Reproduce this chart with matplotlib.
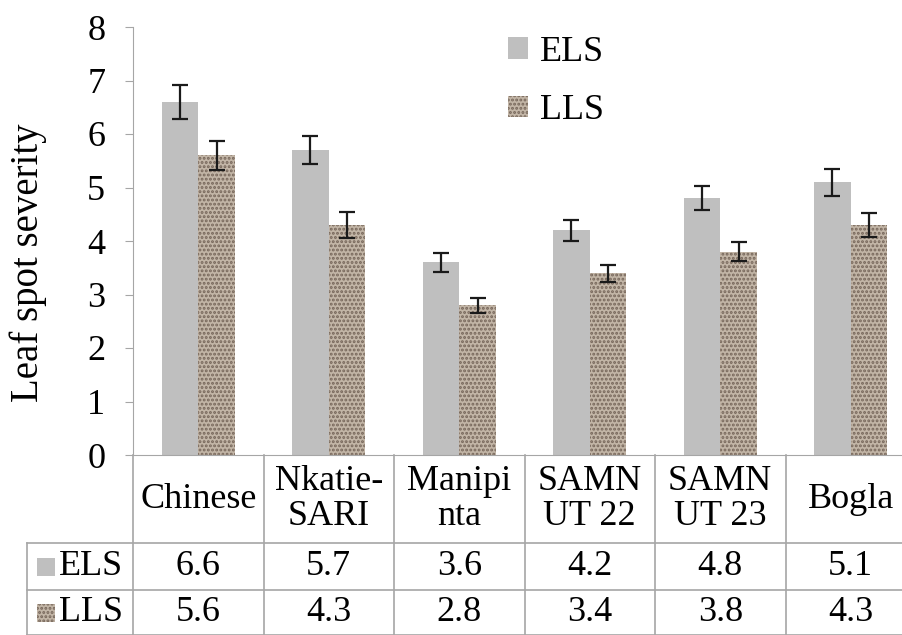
import matplotlib.pyplot as plt
import matplotlib.transforms as mtransforms
from matplotlib.patches import Rectangle
import numpy as np

plt.rcParams['font.family'] = ['Liberation Serif', 'DejaVu Serif']
plt.rcParams['hatch.linewidth'] = 1.4

# data
cultivars = ['Chinese', 'Nkatie-\nSARI', 'Manipi\nnta', 'SAMN\nUT 22', 'SAMN\nUT 23', 'Bogla']
els = [6.6, 5.7, 3.6, 4.2, 4.8, 5.1]
lls = [5.6, 4.3, 2.8, 3.4, 3.8, 4.3]
els_err = [0.32, 0.27, 0.18, 0.2, 0.22, 0.25]
lls_err = [0.27, 0.24, 0.14, 0.16, 0.18, 0.22]

els_color = '#bfbfbf'
lls_color = '#c2b5a6'
lls_hatch_color = '#76665a'
grid_color = '#a6a6a6'
fs = 26

W, H = 902, 635
fig = plt.figure(figsize=(W / 100, H / 100), dpi=100)

# axes box in pixels (left, top of plot, column width, bottom of plot)
left_px, top_px, bottom_px, col_px = 133, 27, 455, 130.5
n = len(cultivars)
ax = fig.add_axes([left_px / W, (H - bottom_px) / H, n * col_px / W, (bottom_px - top_px) / H])

x = np.arange(n)
bw = 0.28
ax.bar(x - bw / 2, els, bw, color=els_color, label='ELS', zorder=2)
ax.bar(x + bw / 2, lls, bw, color=lls_color, hatch='....', edgecolor=lls_hatch_color,
       linewidth=0, label='LLS', zorder=2)
ax.errorbar(x - bw / 2, els, yerr=els_err, fmt='none', ecolor='#1a1a1a', elinewidth=1.6,
            capsize=6, capthick=1.6, zorder=3)
ax.errorbar(x + bw / 2, lls, yerr=lls_err, fmt='none', ecolor='#1a1a1a', elinewidth=1.6,
            capsize=6, capthick=1.6, zorder=3)

ax.set_xlim(-0.5, n - 0.5)
ax.set_ylim(0, 8)
ax.set_yticks(range(0, 9))
ax.set_xticks([])
for s in ['top', 'right']:
    ax.spines[s].set_visible(False)
ax.spines['left'].set_color(grid_color)
ax.spines['bottom'].set_color(grid_color)
ax.tick_params(axis='y', colors=grid_color, labelcolor='black', labelsize=fs, length=6, pad=14)
ax.set_ylabel('Leaf spot severity', fontsize=28)
ax.yaxis.set_label_coords(-0.11, 0.45)

leg = ax.legend(loc='upper left', bbox_to_anchor=(0.437, 1.055), frameon=False, fontsize=fs,
                handlelength=0.55, handleheight=0.55, handletextpad=0.35, labelspacing=0.7)

# data table under the axes
plot_h = bottom_px - top_px
row_edges_px = [455, 543, 590, 635]
row_y = [(bottom_px - r) / plot_h for r in row_edges_px]
table_left_x = -0.5 + (27 - left_px) / col_px
trans = mtransforms.blended_transform_factory(ax.transData, ax.transAxes)
lkw = dict(color=grid_color, lw=1.2, transform=trans, clip_on=False)

for yy in row_y[1:]:
    ax.plot([table_left_x, n - 0.5], [yy, yy], **lkw)
ax.plot([table_left_x, table_left_x], [row_y[1], row_y[3]], **lkw)
for k in range(n + 1):
    xx = k - 0.5
    ax.plot([xx, xx], [row_y[0], row_y[3]], **lkw)

for i, name in enumerate(cultivars):
    ax.text(i, (row_y[0] + row_y[1]) / 2, name, transform=trans, ha='center', va='center',
            fontsize=fs, linespacing=1.1, clip_on=False)
    ax.text(i, (row_y[1] + row_y[2]) / 2, f'{els[i]:.1f}', transform=trans, ha='center',
            va='center', fontsize=fs, clip_on=False)
    ax.text(i, (row_y[2] + row_y[3]) / 2, f'{lls[i]:.1f}', transform=trans, ha='center',
            va='center', fontsize=fs, clip_on=False)

# series keys in the table
key_x = table_left_x + 10 / col_px
key_w = 18 / col_px
key_h = 18 / plot_h
for (y0, y1), lab, fc, hatch in [((row_y[1], row_y[2]), 'ELS', els_color, None),
                                 ((row_y[2], row_y[3]), 'LLS', lls_color, '....')]:
    yc = (y0 + y1) / 2
    ax.add_patch(Rectangle((key_x, yc - key_h / 2), key_w, key_h, facecolor=fc, hatch=hatch,
                           edgecolor=lls_hatch_color if hatch else fc, linewidth=0,
                           transform=trans, clip_on=False))
    ax.text(key_x + key_w + 4 / col_px, yc, lab, transform=trans, ha='left', va='center',
            fontsize=fs, clip_on=False)

fig.savefig('out.png', dpi=100)
